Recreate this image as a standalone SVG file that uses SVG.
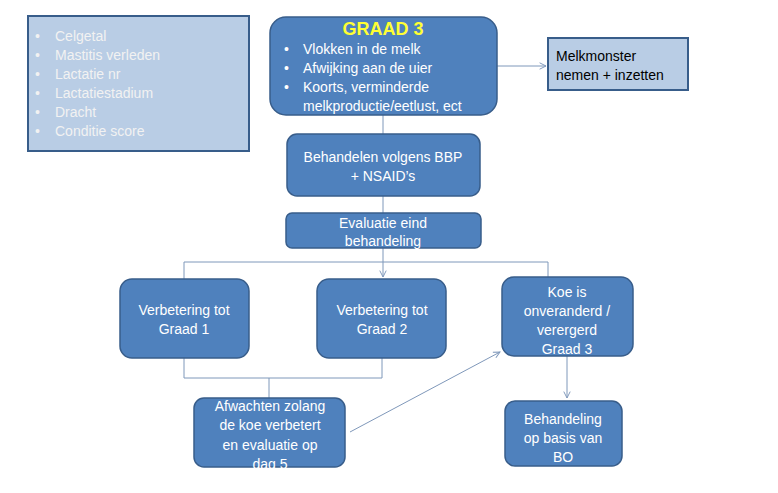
<svg xmlns="http://www.w3.org/2000/svg" width="778" height="493" viewBox="0 0 778 493">
<defs>
<marker id="arr" viewBox="0 0 10 10" refX="9" refY="5" markerWidth="8" markerHeight="8" orient="auto" markerUnits="userSpaceOnUse">
<path d="M1,1 L9,5 L1,9" fill="none" stroke="#7f98ba" stroke-width="1.2"/>
</marker>
<style>
.n{fill:#4f81bd;stroke:#385d8a;stroke-width:1.5}
.l{fill:#b9cde5;stroke:#385d8a;stroke-width:2}
.t{font-family:"Liberation Sans",Arial,sans-serif;font-size:14px;fill:#ffffff}
.c{text-anchor:middle}
.k{fill:#000000}
.w{fill:#f2f2f2}
.e{fill:none;stroke:#7f98ba;stroke-width:1}
</style>
</defs>
<rect width="778" height="493" fill="#ffffff"/>
<g id="connectors">
<line class="e" x1="497" y1="66" x2="546" y2="66" marker-end="url(#arr)"/>
<line class="e" x1="383" y1="115" x2="383" y2="134"/>
<line class="e" x1="383" y1="196" x2="383" y2="213"/>
<line class="e" x1="383" y1="248" x2="383" y2="262"/>
<polyline class="e" points="184,279 184,262 548,262 548,277"/>
<line class="e" x1="383" y1="262" x2="383" y2="277" marker-end="url(#arr)"/>
<polyline class="e" points="184,358 184,378 382,378 382,358"/>
<line class="e" x1="269" y1="378" x2="269" y2="398"/>
<line class="e" x1="350" y1="432" x2="500" y2="352" marker-end="url(#arr)"/>
<line class="e" x1="567" y1="356" x2="567" y2="398" marker-end="url(#arr)"/>
</g>
<g id="factors">
<rect class="l" x="28" y="16" width="221" height="135"/>
<g class="t w">
<text x="35" y="41">•</text><text x="55" y="41">Celgetal</text>
<text x="35" y="60">•</text><text x="55" y="60">Mastitis verleden</text>
<text x="35" y="79">•</text><text x="55" y="79">Lactatie nr</text>
<text x="35" y="98">•</text><text x="55" y="98">Lactatiestadium</text>
<text x="35" y="117">•</text><text x="55" y="117">Dracht</text>
<text x="35" y="136">•</text><text x="55" y="136">Conditie score</text>
</g>
</g>
<g id="graad3">
<rect class="n" x="270" y="17" width="227" height="98" rx="16"/>
<text x="383" y="35" class="c" font-family="Liberation Sans,Arial,sans-serif" font-weight="bold" font-size="18" fill="#ffff33">GRAAD 3</text>
<g class="t">
<text x="284" y="54">•</text><text x="303" y="54">Vlokken in de melk</text>
<text x="284" y="73">•</text><text x="303" y="73">Afwijking aan de uier</text>
<text x="284" y="92">•</text><text x="303" y="92">Koorts, verminderde</text>
<text x="303" y="111">melkproductie/eetlust, ect</text>
</g>
</g>
<g id="melkmonster">
<rect class="l" x="548" y="38" width="140" height="52"/>
<text class="t k" x="556" y="61">Melkmonster</text>
<text class="t k" x="556" y="80">nemen + inzetten</text>
</g>
<g id="behandelen">
<rect class="n" x="287" y="134" width="193" height="62" rx="10"/>
<text class="t c" x="383" y="162">Behandelen volgens BBP</text>
<text class="t c" x="383" y="181">+ NSAID’s</text>
</g>
<g id="evaluatie">
<rect class="n" x="286" y="213" width="195" height="35" rx="6"/>
<text class="t c" x="383" y="228">Evaluatie eind</text>
<text class="t c" x="383" y="246">behandeling</text>
</g>
<g id="graad1">
<rect class="n" x="120" y="279" width="129" height="79" rx="12"/>
<text class="t c" x="184" y="315">Verbetering tot</text>
<text class="t c" x="184" y="334">Graad 1</text>
</g>
<g id="graad2">
<rect class="n" x="317" y="279" width="129" height="79" rx="12"/>
<text class="t c" x="382" y="315">Verbetering tot</text>
<text class="t c" x="382" y="334">Graad 2</text>
</g>
<g id="onveranderd">
<rect class="n" x="502" y="277" width="131" height="79" rx="12"/>
<text class="t c" x="567" y="297">Koe is</text>
<text class="t c" x="567" y="316">onveranderd /</text>
<text class="t c" x="567" y="335">verergerd</text>
<text class="t c" x="567" y="354">Graad 3</text>
</g>
<g id="afwachten">
<rect class="n" x="194" y="398" width="151" height="69" rx="10"/>
<text class="t c" x="270" y="411">Afwachten zolang</text>
<text class="t c" x="270" y="430">de koe verbetert</text>
<text class="t c" x="270" y="450">en evaluatie op</text>
<text class="t c" x="270" y="469">dag 5</text>
</g>
<g id="behandeling-bo">
<rect class="n" x="505" y="401" width="117" height="65" rx="10"/>
<text class="t c" x="563" y="424">Behandeling</text>
<text class="t c" x="563" y="443">op basis van</text>
<text class="t c" x="563" y="462">BO</text>
</g>
</svg>
